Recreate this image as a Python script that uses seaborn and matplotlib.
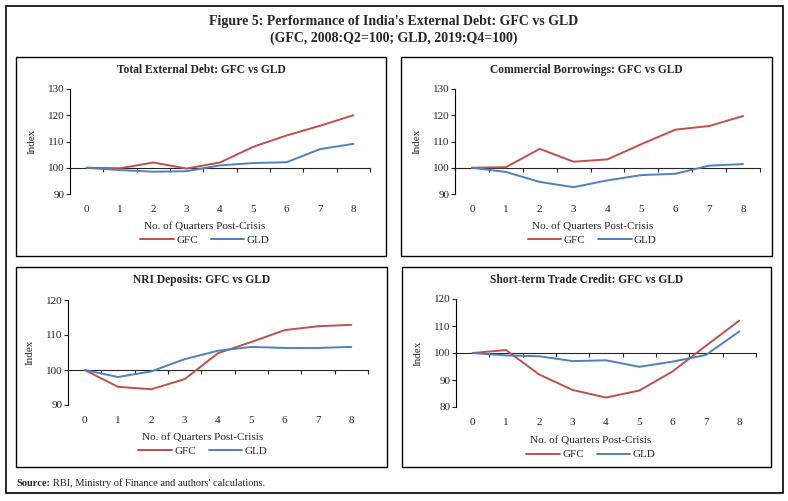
import numpy as np
import pandas as pd
import matplotlib.pyplot as plt
import seaborn as sns
from matplotlib.patches import Rectangle

quarters = list(range(9))

total_gfc = [100, 99.8, 102, 99.7, 102, 108, 112.3, 116, 120]
total_gld = [100, 99.1, 98.5, 98.7, 100.9, 101.8, 102.1, 107.1, 109.1]

ecb_gfc = [100, 100.2, 107.2, 102.3, 103.2, 109, 114.5, 115.9, 119.7]
ecb_gld = [100, 98.4, 94.6, 92.6, 95.2, 97.2, 97.7, 100.8, 101.4]

nri_gfc = [100, 95.2, 94.5, 97.4, 104.8, 108, 111.4, 112.5, 112.9]
nri_gld = [100, 98, 99.6, 103.1, 105.5, 106.6, 106.3, 106.3, 106.6]

stc_gfc = [100, 101.1, 92, 86.3, 83.5, 86.1, 93.2, 102.7, 112]
stc_gld = [100, 99.1, 98.8, 97, 97.3, 94.9, 96.8, 99.3, 108]

titles = ['Total External Debt: GFC vs GLD', 'Commercial Borrowings: GFC vs GLD',
          'NRI Deposits: GFC vs GLD', 'Short-term Trade Credit: GFC vs GLD']
series = [(total_gfc, total_gld), (ecb_gfc, ecb_gld), (nri_gfc, nri_gld), (stc_gfc, stc_gld)]
ylims = [(90, 130), (90, 130), (90, 120), (80, 120)]

colors = {'GFC': '#C0504D', 'GLD': '#4F81BD'}

sns.set_style('white')
plt.rcParams['font.family'] = ['Liberation Serif', 'DejaVu Serif']

W, H = 788, 501
fig = plt.figure(figsize=(7.88, 5.01), dpi=100)

def px(x0, y0, x1, y1):
    # pixel box (top-left origin) -> figure fraction rect
    return [x0 / W, 1 - y1 / H, (x1 - x0) / W, (y1 - y0) / H]

# axes areas and panel boxes, in pixels
axes_px = [(70, 89, 370, 194), (455, 89, 760, 194), (68, 300, 368, 405), (456, 299, 756, 407)]
boxes_px = [(16, 57, 386, 256), (401, 57, 772, 256), (16, 267, 387, 467), (402, 267, 771, 467)]

# outer frame
fig.add_artist(Rectangle((6 / W, 1 - 493 / H), 777 / W, 487 / H, transform=fig.transFigure,
                         fill=False, edgecolor='black', linewidth=1.2))

fig.text(0.5, 1 - 21 / H, "Figure 5: Performance of India's External Debt: GFC vs GLD",
         ha='center', va='center', fontsize=10, fontweight='bold')
fig.text(0.5, 1 - 38 / H, "(GFC, 2008:Q2=100; GLD, 2019:Q4=100)",
         ha='center', va='center', fontsize=10, fontweight='bold')

for i in range(4):
    bx = boxes_px[i]
    fig.add_artist(Rectangle((bx[0] / W, 1 - bx[3] / H), (bx[2] - bx[0]) / W, (bx[3] - bx[1]) / H,
                             transform=fig.transFigure, fill=False, edgecolor='black', linewidth=1.0))
    fig.text((bx[0] + bx[2]) / 2 / W, 1 - (bx[1] + 13) / H, titles[i],
             ha='center', va='center', fontsize=8.3, fontweight='bold')

    ax = fig.add_axes(px(*axes_px[i]))
    gfc, gld = series[i]
    df = pd.DataFrame({'Quarter': quarters * 2,
                       'Index': gfc + gld,
                       'Series': ['GFC'] * 9 + ['GLD'] * 9})
    sns.lineplot(data=df, x='Quarter', y='Index', hue='Series', palette=colors,
                 linewidth=1.4, ax=ax)

    lo, hi = ylims[i]
    ax.set_ylim(lo, hi)
    ax.set_yticks(range(lo, hi + 1, 10))
    ax.set_xlim(-0.5, 8.5)
    ax.set_xticks(quarters)
    for s in ['top', 'right', 'bottom']:
        ax.spines[s].set_visible(False)
    ax.spines['left'].set_linewidth(0.8)
    ax.spines['left'].set_color('black')
    ax.tick_params(axis='y', direction='out', length=3, width=0.8, labelsize=8, pad=1, left=True)
    ax.tick_params(axis='x', length=0, labelsize=8, pad=8)

    # category axis crossing at 100
    sec = ax.secondary_xaxis((100 - lo) / (hi - lo))
    sec.set_alignment('bottom')
    sec.set_xticks(np.arange(-0.5, 9, 1))
    sec.tick_params(direction='out', length=3, width=0.8, labelbottom=False, labeltop=False)
    sec.spines['bottom'].set_linewidth(0.8)

    ax.set_ylabel('Index', fontsize=8)
    ax.yaxis.set_label_coords(-0.11, 0.5)
    ax.set_xlabel('No. of Quarters Post-Crisis', fontsize=8)
    ax.xaxis.set_label_coords(0.45, -0.27)
    ax.legend(loc='center', bbox_to_anchor=(0.45, -0.44), ncol=2, frameon=False,
              fontsize=8, handlelength=3.0, columnspacing=1.2, handletextpad=0.2)

fig.text(16 / W, 1 - 483 / H, 'Source:', ha='left', va='center', fontsize=7.5, fontweight='bold')
fig.text(53 / W, 1 - 483 / H, "RBI, Ministry of Finance and authors' calculations.",
         ha='left', va='center', fontsize=7.5)

plt.savefig('out.png', dpi=100)
